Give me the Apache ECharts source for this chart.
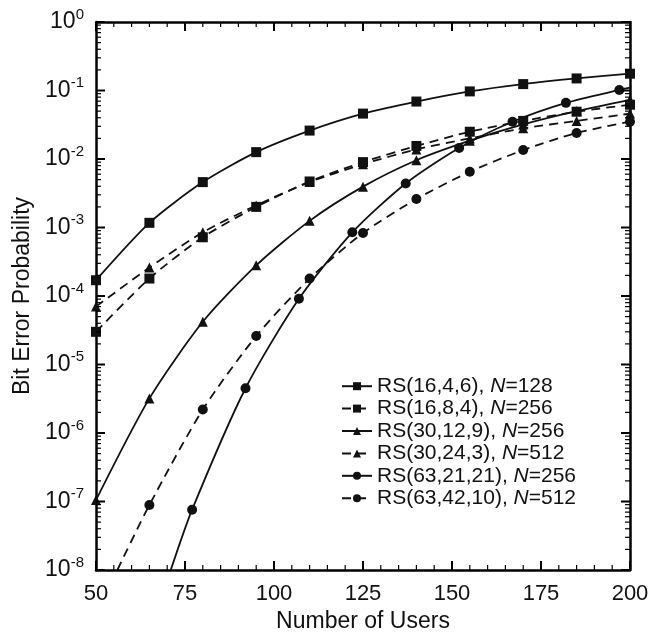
<!DOCTYPE html>
<html>
<head>
<meta charset="utf-8">
<script src="https://cdn.jsdelivr.net/npm/echarts@6/dist/echarts.min.js"></script>
<style>
  html, body { margin: 0; padding: 0; background: #fff; }
  #chart { width: 652px; height: 641px; }
</style>
</head>
<body>
<div id="chart"></div>
<script>
// number of users where the curves carry a marker
var users = [50, 65, 80, 95, 110, 125, 140, 155, 170, 185, 200];
// RS(63,21,21) is marked 3 users earlier
var usersB = [77, 92, 107, 122, 137, 152, 167, 182, 197];

var rs16_4_6 = [1.7e-4, 1.17e-3, 4.6e-3, 1.26e-2, 2.6e-2, 4.6e-2, 6.9e-2, 9.7e-2, 0.124, 0.15, 0.176];
var rs16_8_4 = [3.0e-5, 1.8e-4, 7.2e-4, 2.0e-3, 4.7e-3, 9.0e-3, 1.55e-2, 2.5e-2, 3.6e-2, 4.9e-2, 6.2e-2];
var rs30_12_9 = [1.05e-7, 3.2e-6, 4.2e-5, 2.8e-4, 1.25e-3, 3.95e-3, 9.6e-3, 1.85e-2, 3.2e-2, 5.0e-2, 7.3e-2];
var rs30_24_3 = [7.0e-5, 2.6e-4, 8.5e-4, 2.1e-3, 4.6e-3, 8.4e-3, 1.38e-2, 2.0e-2, 2.8e-2, 3.6e-2, 4.6e-2];
var rs63_21_21 = [7.6e-8, 4.5e-6, 9.1e-5, 8.5e-4, 4.4e-3, 1.45e-2, 3.5e-2, 6.6e-2, 0.102];
// starts at 65 users, below 1e-8 before that
var rs63_42_10 = [8.9e-8, 2.2e-6, 2.6e-5, 1.8e-4, 8.3e-4, 2.6e-3, 6.5e-3, 1.35e-2, 2.4e-2, 3.5e-2];

// points where a curve leaves the frame (no marker)
var rs63_21_21_in = [71, 1e-8];
var rs63_21_21_out = [200, 0.11];
var rs63_42_10_in = [56, 1e-8];

var FONT = 'Liberation Sans';
var X_MIN = 50, X_MAX = 200, Y_MIN = 1e-8, Y_MAX = 1;

// inward frame ticks: [users, major?] and [probability, major?]
var xTicks = [];
for (var u = X_MIN; u <= X_MAX; u += 5) xTicks.push([u, (u - X_MIN) % 25 === 0 ? 1 : 0]);
var yTicks = [];
for (var e = -8; e <= 0; e++) {
  yTicks.push([Math.pow(10, e), 1]);
  if (e < 0) for (var k = 2; k <= 9; k++) yTicks.push([k * Math.pow(10, e), 0]);
}

function pairs(xs, ys) {
  return xs.map(function (x, i) { return [x, ys[i]]; });
}
function bare(p) {
  return { value: p, symbol: 'none' };
}

function curve(name, data, symbol, size, dashed) {
  return {
    name: name,
    type: 'line',
    data: data,
    smooth: 0.25,
    symbol: symbol,
    symbolSize: size,
    showAllSymbol: true,
    clip: true,
    lineStyle: { color: '#111', width: 1.8, type: dashed ? [9, 6] : 'solid' },
    itemStyle: { color: '#111' }
  };
}

function tickLine(x1, y1, x2, y2, major) {
  return {
    type: 'line',
    shape: { x1: x1, y1: y1, x2: x2, y2: y2 },
    style: { stroke: '#000', lineWidth: major ? 2 : 1.2 }
  };
}

// ticks on bottom and top edge, placed through the x axis
var xTickSeries = {
  type: 'custom', silent: true, clip: false, z: 5,
  data: xTicks.map(function (t) { return [t[0], Y_MIN, t[1]]; }),
  encode: { x: 0, y: 1 },
  renderItem: function (params, api) {
    var major = api.value(2) === 1;
    var len = major ? 9 : 5;
    var b = api.coord([api.value(0), Y_MIN]);
    var t = api.coord([api.value(0), Y_MAX]);
    return {
      type: 'group',
      children: [
        tickLine(b[0], b[1], b[0], b[1] - len, major),
        tickLine(t[0], t[1], t[0], t[1] + len, major)
      ]
    };
  }
};

// ticks on left and right edge, placed through the log y axis
var yTickSeries = {
  type: 'custom', silent: true, clip: false, z: 5,
  data: yTicks.map(function (t) { return [X_MIN, t[0], t[1]]; }),
  encode: { x: 0, y: 1 },
  renderItem: function (params, api) {
    var major = api.value(2) === 1;
    var len = major ? 9 : 5;
    var l = api.coord([X_MIN, api.value(1)]);
    var r = api.coord([X_MAX, api.value(1)]);
    return {
      type: 'group',
      children: [
        tickLine(l[0], l[1], l[0] + len, l[1], major),
        tickLine(r[0], r[1], r[0] - len, r[1], major)
      ]
    };
  }
};

function frame() {
  return { show: true, lineStyle: { color: '#000', width: 2.5 } };
}

var chart = echarts.init(document.getElementById('chart'));
chart.setOption({
  animation: false,
  grid: { left: 96, right: 22, top: 22, bottom: 71 },
  legend: {
    orient: 'vertical',
    left: 336,
    top: 370,
    itemWidth: 30,
    itemHeight: 10,
    itemGap: 0,
    formatter: function (name) {
      return name.replace('N=', '{i|N}=');
    },
    textStyle: {
      fontFamily: FONT, fontSize: 21, color: '#111', lineHeight: 22.4,
      rich: { i: { fontFamily: FONT, fontSize: 21, fontStyle: 'italic', color: '#111' } }
    },
    data: ['RS(16,4,6), N=128', 'RS(16,8,4), N=256', 'RS(30,12,9), N=256',
           'RS(30,24,3), N=512', 'RS(63,21,21), N=256', 'RS(63,42,10), N=512']
  },
  xAxis: [
    {
      type: 'value', min: X_MIN, max: X_MAX, interval: 25, position: 'bottom',
      axisLine: frame(), axisTick: { show: false }, splitLine: { show: false },
      name: 'Number of Users',
      nameLocation: 'middle',
      nameGap: 38,
      nameTextStyle: { fontFamily: FONT, fontSize: 23, color: '#111' },
      axisLabel: { fontFamily: FONT, fontSize: 22, color: '#111', margin: 13 }
    },
    {
      type: 'value', min: X_MIN, max: X_MAX, interval: 25, position: 'top',
      axisLine: frame(), axisTick: { show: false }, splitLine: { show: false },
      axisLabel: { show: false }
    }
  ],
  yAxis: [
    {
      type: 'log', min: Y_MIN, max: Y_MAX, position: 'left',
      axisLine: frame(), axisTick: { show: false }, splitLine: { show: false },
      name: 'Bit Error Probability',
      nameLocation: 'middle',
      nameGap: 60,
      nameTextStyle: { fontFamily: FONT, fontSize: 23, color: '#111' },
      axisLabel: {
        margin: 12,
        formatter: function (v) {
          return '{b|10}{s|' + Math.round(Math.log10(v)) + '}';
        },
        rich: {
          b: { fontFamily: FONT, fontSize: 23, color: '#111', lineHeight: 30 },
          s: { fontFamily: FONT, fontSize: 15, color: '#111', lineHeight: 15, verticalAlign: 'top' }
        }
      }
    },
    {
      type: 'log', min: Y_MIN, max: Y_MAX, position: 'right',
      axisLine: frame(), axisTick: { show: false }, splitLine: { show: false },
      axisLabel: { show: false }
    }
  ],
  series: [
    curve('RS(16,4,6), N=128', pairs(users, rs16_4_6), 'rect', 10, false),
    curve('RS(16,8,4), N=256', pairs(users, rs16_8_4), 'rect', 10, true),
    curve('RS(30,12,9), N=256', pairs(users, rs30_12_9), 'triangle', 10, false),
    curve('RS(30,24,3), N=512', pairs(users, rs30_24_3), 'triangle', 10, true),
    curve('RS(63,21,21), N=256',
      [bare(rs63_21_21_in)].concat(pairs(usersB, rs63_21_21), [bare(rs63_21_21_out)]),
      'circle', 10, false),
    curve('RS(63,42,10), N=512',
      [bare(rs63_42_10_in)].concat(pairs(users.slice(1), rs63_42_10)),
      'circle', 10, true),
    xTickSeries,
    yTickSeries
  ]
});
</script>
</body>
</html>
